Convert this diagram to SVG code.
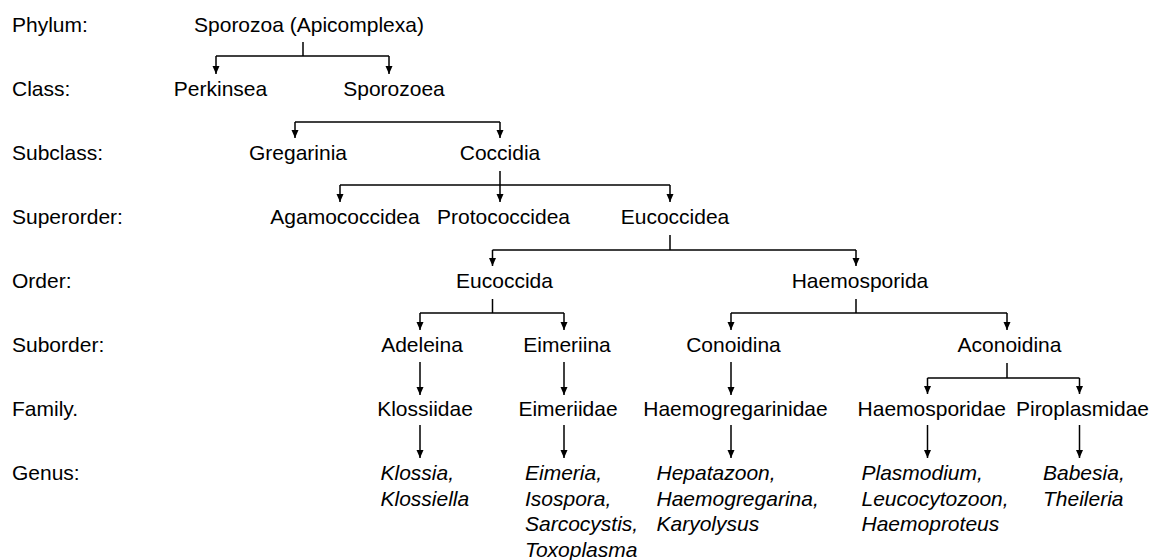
<svg xmlns="http://www.w3.org/2000/svg" width="1152" height="560" viewBox="0 0 1152 560">
<style>
text{font-family:"Liberation Sans",Arial,sans-serif;font-size:21px;fill:#000}
.n{text-anchor:middle}
.g{font-style:italic}
.c line{stroke:#000;stroke-width:1.5;fill:none}
</style>
<defs>
<marker id="ah" markerUnits="userSpaceOnUse" markerWidth="8" markerHeight="8" refX="8" refY="3.5" orient="auto" viewBox="0 0 8 7">
<path d="M0,0 L8,3.5 L0,7 z" fill="#000"/>
</marker>
</defs>
<rect width="1152" height="560" fill="#fff"/>
<g id="rank-labels">
<text x="12" y="31.5">Phylum:</text>
<text x="12" y="95.5">Class:</text>
<text x="12" y="159.5">Subclass:</text>
<text x="12" y="224">Superorder:</text>
<text x="12" y="288">Order:</text>
<text x="12" y="352">Suborder:</text>
<text x="12" y="416">Family.</text>
<text x="12" y="480">Genus:</text>
</g>
<g id="sporozoa"><text class="n" x="309" y="31.5">Sporozoa (Apicomplexa)</text></g>
<g id="perkinsea"><text class="n" x="220.5" y="95.5">Perkinsea</text></g>
<g id="sporozoea"><text class="n" x="394" y="95.5">Sporozoea</text></g>
<g id="gregarinia"><text class="n" x="298" y="159.5">Gregarinia</text></g>
<g id="coccidia"><text class="n" x="500" y="159.5">Coccidia</text></g>
<g id="agamococcidea"><text class="n" x="345" y="224">Agamococcidea</text></g>
<g id="protococcidea"><text class="n" x="503.5" y="224">Protococcidea</text></g>
<g id="eucoccidea"><text class="n" x="675" y="224">Eucoccidea</text></g>
<g id="eucoccida"><text class="n" x="504.5" y="288">Eucoccida</text></g>
<g id="haemosporida"><text class="n" x="860" y="288">Haemosporida</text></g>
<g id="adeleina"><text class="n" x="422" y="352">Adeleina</text></g>
<g id="eimeriina"><text class="n" x="567" y="352">Eimeriina</text></g>
<g id="conoidina"><text class="n" x="733.5" y="352">Conoidina</text></g>
<g id="aconoidina"><text class="n" x="1009.5" y="352">Aconoidina</text></g>
<g id="klossiidae"><text class="n" x="425" y="416">Klossiidae</text></g>
<g id="eimeriidae"><text class="n" x="568" y="416">Eimeriidae</text></g>
<g id="haemogregarinidae"><text class="n" x="735.5" y="416">Haemogregarinidae</text></g>
<g id="haemosporidae"><text class="n" x="931.7" y="416">Haemosporidae</text></g>
<g id="piroplasmidae"><text class="n" x="1082.5" y="416">Piroplasmidae</text></g>
<g id="genus-klossia"><text class="g" x="380.5" y="480"><tspan x="380.5">Klossia,</tspan><tspan x="380.5" y="505.5">Klossiella</tspan></text></g>
<g id="genus-eimeria"><text class="g" x="525" y="480"><tspan x="525">Eimeria,</tspan><tspan x="525" y="505.5">Isospora,</tspan><tspan x="525" y="531">Sarcocystis,</tspan><tspan x="525" y="556.5">Toxoplasma</tspan></text></g>
<g id="genus-hepatazoon"><text class="g" x="656.5" y="480"><tspan x="656.5">Hepatazoon,</tspan><tspan x="656.5" y="505.5">Haemogregarina,</tspan><tspan x="656.5" y="531">Karyolysus</tspan></text></g>
<g id="genus-plasmodium"><text class="g" x="861.5" y="480"><tspan x="861.5">Plasmodium,</tspan><tspan x="861.5" y="505.5">Leucocytozoon,</tspan><tspan x="861.5" y="531">Haemoproteus</tspan></text></g>
<g id="genus-babesia"><text class="g" x="1043" y="480"><tspan x="1043">Babesia,</tspan><tspan x="1043" y="505.5">Theileria</tspan></text></g>
<g id="connectors" class="c">
<line x1="303" y1="42" x2="303" y2="56"/>
<line x1="216" y1="56" x2="389" y2="56"/>
<line x1="216" y1="56" x2="216" y2="74" marker-end="url(#ah)"/>
<line x1="389" y1="56" x2="389" y2="74" marker-end="url(#ah)"/>
<line x1="295" y1="122" x2="500" y2="122"/>
<line x1="295" y1="122" x2="295" y2="138" marker-end="url(#ah)"/>
<line x1="500" y1="122" x2="500" y2="138" marker-end="url(#ah)"/>
<line x1="500" y1="171" x2="500" y2="185"/>
<line x1="340" y1="185" x2="670" y2="185"/>
<line x1="340" y1="185" x2="340" y2="202" marker-end="url(#ah)"/>
<line x1="500" y1="185" x2="500" y2="202" marker-end="url(#ah)"/>
<line x1="670" y1="185" x2="670" y2="202" marker-end="url(#ah)"/>
<line x1="670" y1="235" x2="670" y2="250"/>
<line x1="492.5" y1="250" x2="856" y2="250"/>
<line x1="492.5" y1="250" x2="492.5" y2="266" marker-end="url(#ah)"/>
<line x1="856" y1="250" x2="856" y2="266" marker-end="url(#ah)"/>
<line x1="492.5" y1="299" x2="492.5" y2="313"/>
<line x1="420" y1="313" x2="564" y2="313"/>
<line x1="420" y1="313" x2="420" y2="330" marker-end="url(#ah)"/>
<line x1="564" y1="313" x2="564" y2="330" marker-end="url(#ah)"/>
<line x1="856" y1="299" x2="856" y2="313"/>
<line x1="731" y1="313" x2="1007" y2="313"/>
<line x1="731" y1="313" x2="731" y2="330" marker-end="url(#ah)"/>
<line x1="1007" y1="313" x2="1007" y2="330" marker-end="url(#ah)"/>
<line x1="420" y1="362" x2="420" y2="395" marker-end="url(#ah)"/>
<line x1="564" y1="362" x2="564" y2="395" marker-end="url(#ah)"/>
<line x1="731" y1="362" x2="731" y2="395" marker-end="url(#ah)"/>
<line x1="1007" y1="363" x2="1007" y2="378"/>
<line x1="927.5" y1="378" x2="1079.5" y2="378"/>
<line x1="927.5" y1="378" x2="927.5" y2="394" marker-end="url(#ah)"/>
<line x1="1079.5" y1="378" x2="1079.5" y2="394" marker-end="url(#ah)"/>
<line x1="420" y1="425" x2="420" y2="458" marker-end="url(#ah)"/>
<line x1="564" y1="425" x2="564" y2="458" marker-end="url(#ah)"/>
<line x1="731" y1="425" x2="731" y2="458" marker-end="url(#ah)"/>
<line x1="927.5" y1="425" x2="927.5" y2="458" marker-end="url(#ah)"/>
<line x1="1079.5" y1="425" x2="1079.5" y2="458" marker-end="url(#ah)"/>
</g>
</svg>
